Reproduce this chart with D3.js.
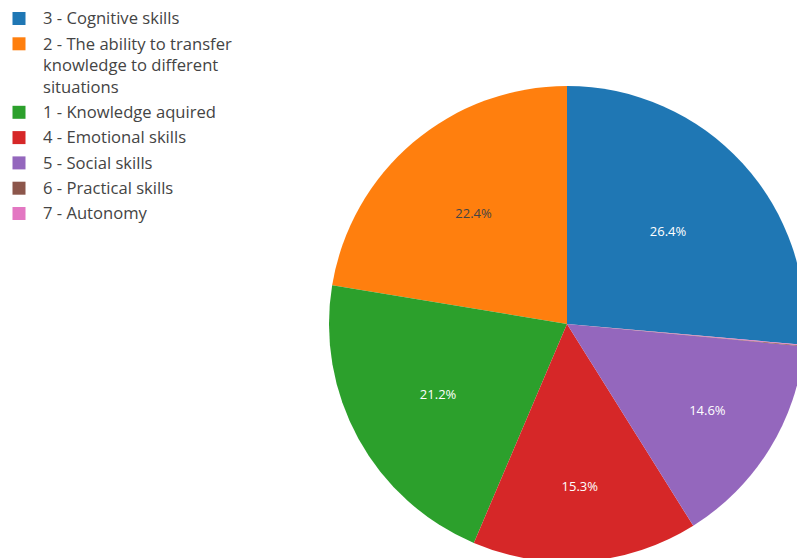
<!DOCTYPE html>
<html>
<head>
<meta charset="utf-8">
<script src="https://cdn.jsdelivr.net/npm/d3@7"></script>
<style>
  html, body { margin: 0; padding: 0; background: #fff; }
  svg { display: block; font-family: "Open Sans", sans-serif; }
</style>
</head>
<body>
<svg id="chart" width="797" height="558"></svg>
<script>
// Skill categories (legend order) and their share of responses, in percent
const categories = [
  "3 - Cognitive skills",
  "2 - The ability to transfer<br>knowledge to different<br>situations",
  "1 - Knowledge aquired",
  "4 - Emotional skills",
  "5 - Social skills",
  "6 - Practical skills",
  "7 - Autonomy"
];
const values = [26.4, 22.4, 21.2, 15.3, 14.6, 0.05, 0.05];
const colors = ["#1f77b4", "#ff7f0e", "#2ca02c", "#d62728", "#9467bd", "#8c564b", "#e377c2"];

const svg = d3.select("#chart");
const cx = 567, cy = 324, R = 238;

const total = d3.sum(values);
const data = categories.map((c, i) => ({ label: c, value: values[i], color: colors[i] }));

// First slice ends at 12 o'clock, the rest run counter-clockwise from there
const start = 2 * Math.PI * values[0] / total;
const pie = d3.pie().sort(null).value(d => d.value)
  .startAngle(start).endAngle(start - 2 * Math.PI);
const arcs = pie(data);
const arc = d3.arc().innerRadius(0).outerRadius(R);

const g = svg.append("g").attr("transform", `translate(${cx},${cy})`);
g.selectAll("path.slice").data(arcs).enter().append("path")
  .attr("class", "slice")
  .attr("d", arc)
  .attr("fill", d => d.data.color);

// Percent labels: centred in the largest circle inscribed in each slice
const fmt = d3.format(".1f");
arcs.forEach(a => {
  const pct = a.data.value / total * 100;
  if (pct < 1) return;
  const half = Math.abs(a.endAngle - a.startAngle) / 2;
  const mid = (a.startAngle + a.endAngle) / 2;
  const s = Math.sin(Math.min(half, Math.PI / 2));
  const rIns = Math.min(s / (1 + s), 0.5);
  const rc = R * (1 - rIns);
  const x = rc * Math.sin(mid), y = -rc * Math.cos(mid);
  const rgb = d3.rgb(a.data.color);
  const lum = (0.299 * rgb.r + 0.587 * rgb.g + 0.114 * rgb.b);
  g.append("text")
    .attr("x", x).attr("y", y)
    .attr("dy", "0.35em")
    .attr("text-anchor", "middle")
    .attr("font-size", 13)
    .attr("fill", lum > 140 ? "#444" : "#fff")
    .text(fmt(pct) + "%");
});

// Legend
const legend = svg.append("g").attr("font-size", 16.6).attr("fill", "#444");
const lineH = 21.6, itemGap = 25.3;
let yPos = 18.5;
data.forEach(d => {
  const lines = d.label.split("<br>");
  legend.append("rect")
    .attr("x", 12.5).attr("y", yPos - 6.5)
    .attr("width", 13).attr("height", 13)
    .attr("fill", d.color);
  const t = legend.append("text");
  lines.forEach((ln, j) => {
    t.append("tspan").attr("x", 43).attr("y", yPos + j * lineH).attr("dy", "0.35em").text(ln);
  });
  yPos += itemGap + (lines.length - 1) * lineH;
});
</script>
</body>
</html>
